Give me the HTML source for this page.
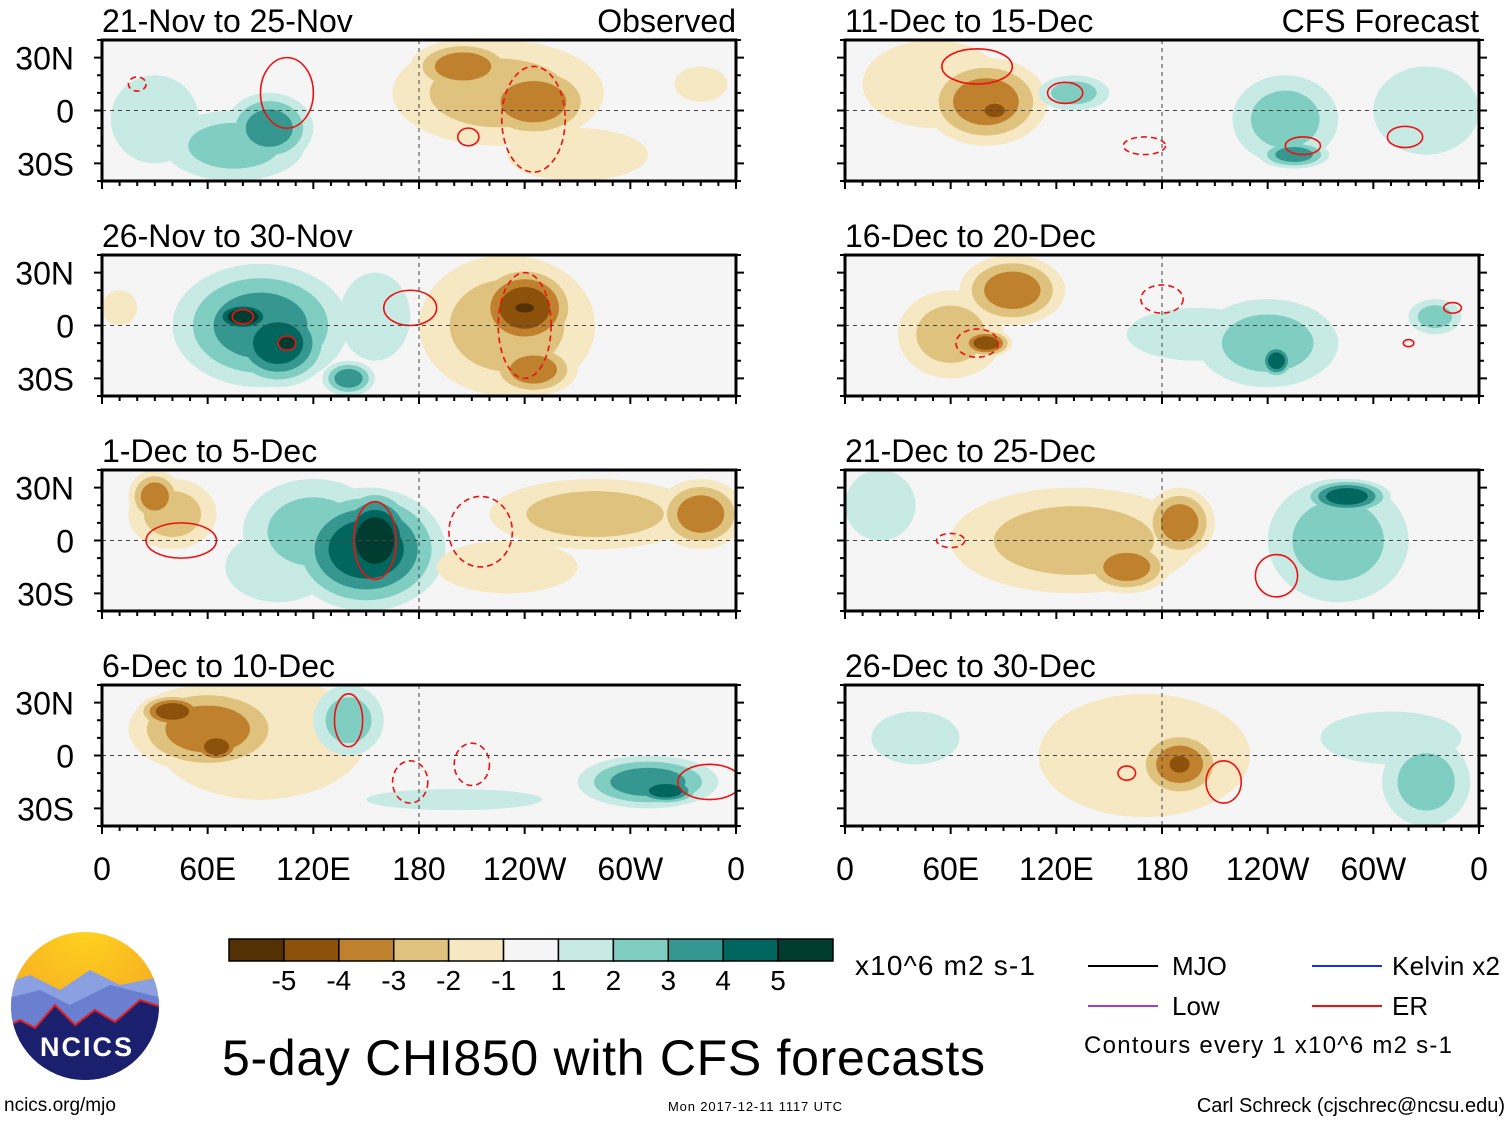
<!DOCTYPE html>
<html><head><meta charset="utf-8">
<style>
body{margin:0;background:#fff;}
svg{display:block;font-family:"Liberation Sans",sans-serif;}
</style></head>
<body>
<svg id="chart" width="1510" height="1121" viewBox="0 0 1510 1121" xmlns="http://www.w3.org/2000/svg">
<defs>
<radialGradient id="sky" cx="50%" cy="0%" r="70%"><stop offset="0" stop-color="#ffd21f"/><stop offset="1" stop-color="#f5a623"/></radialGradient>
</defs>
<g id="panels"></g>
<g id="colorbar"></g>
<text x="855" y="975" font-size="28" textLength="180">x10^6 m2 s-1</text>
<g font-size="26">
<line x1="1088" y1="966" x2="1158" y2="966" stroke="#000" stroke-width="2"/><text x="1172" y="975">MJO</text>
<line x1="1088" y1="1006" x2="1158" y2="1006" stroke="#9b3fd6" stroke-width="2"/><text x="1172" y="1015">Low</text>
<line x1="1312" y1="966" x2="1382" y2="966" stroke="#1230f0" stroke-width="2"/><text x="1392" y="975" textLength="108">Kelvin x2</text>
<line x1="1312" y1="1006" x2="1382" y2="1006" stroke="#f01010" stroke-width="2"/><text x="1392" y="1015">ER</text>
<text x="1084" y="1053" font-size="24" textLength="368">Contours every 1 x10^6 m2 s-1</text>
</g>
<text x="222" y="1075" font-size="50" textLength="763">5-day CHI850 with CFS forecasts</text>
<g>
<clipPath id="lc"><circle cx="85" cy="1006" r="74"/></clipPath>
<g clip-path="url(#lc)">
<rect x="0" y="930" width="170" height="160" fill="url(#sky)"/>
<path d="M0 985 L30 975 L60 990 L90 970 L120 985 L170 975 L170 1100 L0 1100Z" fill="#8aa0e0"/>
<path d="M0 1000 L40 990 L70 1005 L110 985 L170 1000 L170 1100 L0 1100Z" fill="#6a7fd0"/>
<path d="M0 1030 L20 1020 L35 1028 L55 1005 L75 1025 L95 1010 L115 1022 L140 1000 L170 1010 L170 1100 L0 1100Z" fill="#1a1f6e" stroke="#e02020" stroke-width="2"/>
</g>
<text x="87" y="1056" font-size="27" font-weight="bold" fill="#fff" text-anchor="middle" letter-spacing="2">NCICS</text>
</g>
<text x="4" y="1111" font-size="19">ncics.org/mjo</text>
<text x="668" y="1111" font-size="13" textLength="174">Mon 2017-12-11 1117 UTC</text>
<text x="1505" y="1112" font-size="20" text-anchor="end">Carl Schreck (cjschrec@ncsu.edu)</text>
</svg>
<script>
const NS="http://www.w3.org/2000/svg";
const colors=["#543005","#8c510a","#bf812d","#dfc27d","#f6e8c3","#f5f5f5","#c7eae5","#80cdc1","#35978f","#01665e","#003c30"];
const cbLabels=["-5","-4","-3","-2","-1","1","2","3","4","5"];
const panelTitles=["21-Nov to 25-Nov","26-Nov to 30-Nov","1-Dec to 5-Dec","6-Dec to 10-Dec","11-Dec to 15-Dec","16-Dec to 20-Dec","21-Dec to 25-Dec","26-Dec to 30-Dec"];
const latLabels=["30N","0","30S"];
const latTicks=[30,0,-30];
const lonLabels=["0","60E","120E","180","120W","60W","0"];
const lonTicks=[0,60,120,180,240,300,360];
// blobs: [lon, lat, rxDeg, ryDeg, level]
const blobs0=[[205,25,30,15,-3],[245,5,35,22,-3],[225,10,60,30,-2],[270,-25,40,15,-1],[95,-10,25,20,3],[75,-20,40,20,2],[30,-5,25,25,1],[340,15,15,10,-1],[195,28,12,8,-1]];
const blobs1=[[90,0,50,35,3],[100,-10,30,25,4],[80,5,20,10,5],[105,-10,12,8,5],[140,-30,15,10,3],[240,10,30,25,-4],[240,10,12,6,-5],[245,-25,25,15,-3],[230,0,50,40,-2],[155,5,20,25,1],[10,10,10,10,-1]];
const blobs2=[[150,-5,45,35,4],[155,0,25,30,5],[120,5,40,30,2],[40,15,25,20,-2],[30,25,15,15,-3],[340,15,25,20,-3],[280,15,60,20,-2],[230,-15,40,15,-1],[100,-15,30,20,1]];
const blobs3=[[60,15,45,25,-3],[40,25,20,10,-4],[65,5,15,10,-4],[90,10,60,35,-1],[140,20,20,20,2],[310,-15,40,15,3],[320,-20,20,8,4],[200,-25,50,6,1]];
const blobs4=[[80,5,35,25,-3],[85,0,12,8,-4],[50,15,40,25,-1],[130,10,20,10,2],[250,-5,30,25,2],[255,-25,20,8,3],[330,0,30,25,1]];
const blobs5=[[95,20,30,20,-3],[80,-10,15,8,-4],[60,-5,30,25,-2],[240,-10,40,25,2],[245,-20,10,10,4],[200,-5,40,15,1],[335,5,15,10,2]];
const blobs6=[[190,10,20,20,-3],[160,-15,25,15,-3],[130,0,70,30,-2],[280,0,40,35,2],[285,25,25,10,4],[20,20,20,20,1]];
const blobs7=[[190,-5,25,20,-3],[190,-5,12,10,-4],[170,0,60,35,-1],[40,10,25,15,1],[310,10,40,15,1],[330,-15,25,25,2]];
const blobSets=[blobs0,blobs1,blobs2,blobs3,blobs4,blobs5,blobs6,blobs7];
// red ER contours: [lon, lat, rxDeg, ryDeg, dashed]
const er0=[[105,10,15,20,0],[208,-15,6,5,0],[245,-5,18,30,1],[20,15,5,4,1]];
const er1=[[80,5,6,4,0],[105,-10,5,4,0],[175,10,15,10,0],[240,0,15,30,1]];
const er2=[[45,0,20,10,0],[155,0,12,22,0],[215,5,18,20,1]];
const er3=[[140,20,8,15,0],[175,-15,10,12,1],[210,-5,10,12,1],[345,-15,18,10,0]];
const er4=[[75,25,20,10,0],[125,10,10,6,0],[170,-20,12,5,1],[260,-20,10,5,0],[318,-15,10,6,0]];
const er5=[[75,-10,12,8,1],[180,15,12,8,1],[320,-10,3,2,0],[345,10,5,3,0]];
const er6=[[60,0,8,4,1],[245,-20,12,12,0]];
const er7=[[160,-10,5,4,0],[215,-15,10,12,0]];
const erSets=[er0,er1,er2,er3,er4,er5,er6,er7];

const lefts=[102,845], width=634, tops=[40,255,470,685], height=141;
function el(t,a,p){const e=document.createElementNS(NS,t);for(const k in a)e.setAttribute(k,a[k]);p.appendChild(e);return e;}
const panels=document.getElementById('panels');
for(let i=0;i<8;i++){
  const col=i<4?0:1,row=i%4,x0=lefts[col],y0=tops[row];
  const xs=lon=>x0+lon/360*width, ys=lat=>y0+height/2-lat/80*height;
  const g=el('g',{},panels);
  
  
  const cp=el('clipPath',{id:'cp'+i},g);el('rect',{x:x0,y:y0,width:width,height:height},cp);
  el('rect',{x:x0,y:y0,width:width,height:height,fill:'#f5f5f5'},g);
  const fg=el('g',{'clip-path':'url(#cp'+i+')'},g);
  const bl=blobSets[i];
  for(let k=1;k<=5;k++){
    for(const b of bl){
      const n=Math.abs(b[4]),s=Math.sign(b[4]);
      if(n<k)continue;
      const f=1-(k-1)/n*0.7;
      const e=el('ellipse',{cx:xs(b[0]),cy:ys(b[1]),rx:b[2]*f/360*width,ry:b[3]*f/80*height,fill:colors[5+s*k]},fg);
      
      
    }
  }
  for(const r of erSets[i]){
    const e=el('ellipse',{cx:xs(r[0]),cy:ys(r[1]),rx:r[2]/360*width,ry:r[3]/80*height,fill:'none',stroke:'#f01010','stroke-width':1.6},fg);
    if(r[4])e.setAttribute('stroke-dasharray','6 4');
    
    
  }
  el('line',{x1:x0,x2:x0+width,y1:ys(0),y2:ys(0),stroke:'#444','stroke-dasharray':'4 4','stroke-width':1},g);
  el('line',{x1:xs(180),x2:xs(180),y1:y0,y2:y0+height,stroke:'#444','stroke-dasharray':'4 4','stroke-width':1},g);
  el('rect',{x:x0,y:y0,width:width,height:height,fill:'none',stroke:'#000','stroke-width':3},g);
  for(let l=0;l<=360;l+=10){const big=l%60==0;
    el('line',{x1:xs(l),x2:xs(l),y1:y0+height,y2:y0+height+(big?8:5),stroke:'#000','stroke-width':2},g);}
  for(let l=-40;l<=40;l+=10){const big=l%30==0;
    el('line',{x1:x0,x2:x0-(big?8:5),y1:ys(l),y2:ys(l),stroke:'#000','stroke-width':2},g);
    el('line',{x1:x0+width,x2:x0+width+(big?8:5),y1:ys(l),y2:ys(l),stroke:'#000','stroke-width':2},g);}
  const t=el('text',{x:x0,y:y0-8,'font-size':32},g);t.textContent=panelTitles[i];
  
  
  if(i==0||i==4){const tt=el('text',{x:x0+width,y:y0-8,'font-size':32,'text-anchor':'end'},g);tt.textContent=i==0?'Observed':'CFS Forecast';
    
    }
  if(col==0){latTicks.forEach((la,j)=>{const a=el('text',{x:74,y:ys(la)+12,'font-size':32,'text-anchor':'end'},g);a.textContent=latLabels[j];
    
    });}
  if(row==3){lonTicks.forEach((lo,j)=>{const a=el('text',{x:xs(lo),y:880,'font-size':32,'text-anchor':'middle'},g);a.textContent=lonLabels[j];
    
    });}
}
const cb=document.getElementById('colorbar');
const cbx=229,cbw=604/11;
colors.forEach((c,k)=>{const r=el('rect',{x:cbx+k*cbw,y:939,width:cbw,height:22,fill:c,stroke:'#000','stroke-width':1.5},cb);
  
  });
cbLabels.forEach((l,k)=>{const t=el('text',{x:cbx+(k+1)*cbw,y:990,'font-size':28,'text-anchor':'middle'},cb);t.textContent=l;
  
  });
</script>
</body></html>
